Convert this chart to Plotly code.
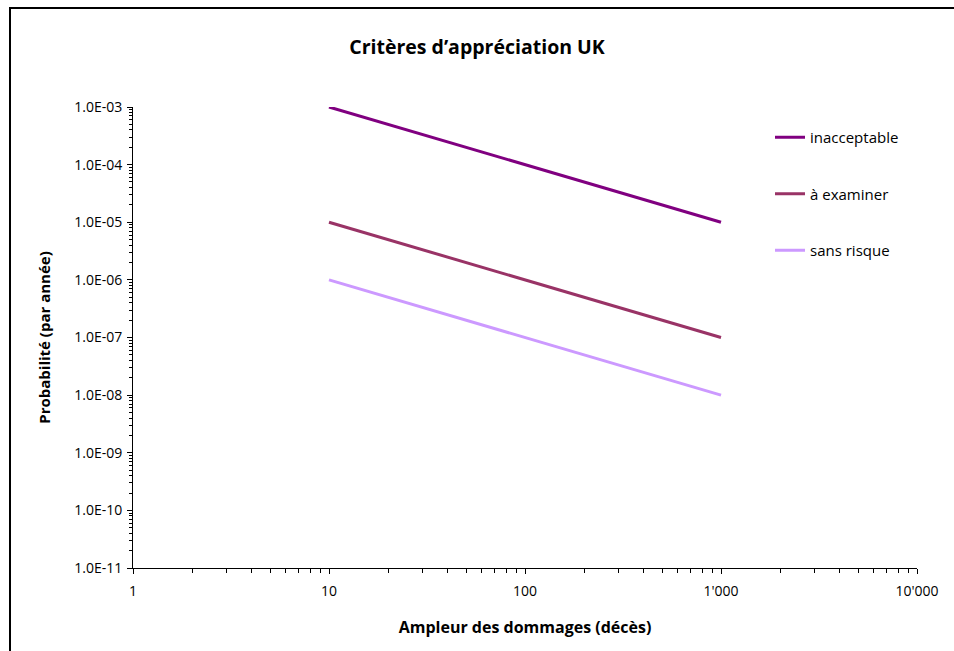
import plotly.graph_objects as go

x_vals = [10, 1000]
inacceptable = [1e-3, 1e-5]
a_examiner = [1e-5, 1e-7]
sans_risque = [1e-6, 1e-8]

series_names = ["inacceptable", "à examiner", "sans risque"]
series_colors = ["#800080", "#993366", "#CC99FF"]

y_tickvals = [1e-11, 1e-10, 1e-9, 1e-8, 1e-7, 1e-6, 1e-5, 1e-4, 1e-3]
y_ticktext = ["1.0E-11", "1.0E-10", "1.0E-09", "1.0E-08", "1.0E-07",
              "1.0E-06", "1.0E-05", "1.0E-04", "1.0E-03"]
x_tickvals = [1, 10, 100, 1000, 10000]
x_ticktext = ["1", "10", "100", "1'000", "10'000"]

x_minor = [m * 10 ** k for k in range(0, 4) for m in range(2, 10)]
y_minor = [m * 10.0 ** k for k in range(-11, -3) for m in range(2, 10)]

FONT = "Open Sans"

fig = go.Figure()
for i, (name, ys, col) in enumerate(zip(series_names, [inacceptable, a_examiner, sans_risque], series_colors)):
    fig.add_trace(go.Scatter(x=x_vals, y=ys, mode="lines", name=name,
                             line=dict(color=col, width=3),
                             legendgroup=f"g{i}"))

L, R, T, B = 133, 37, 107, 83
W, H = 954, 651
pw, ph = W - L - R, H - T - B

def px_x(px):
    return (px - L) / pw

def px_y(py):
    return (H - B - py) / ph

fig.update_layout(
    width=W, height=H,
    margin=dict(l=L, r=R, t=T, b=B),
    paper_bgcolor="white", plot_bgcolor="white",
    font=dict(family=FONT, size=14, color="black"),
    title=dict(text="<b>Critères d’appréciation UK</b>", x=0.5, xref="container", xanchor="center",
               y=1 - 47 / H, yanchor="middle", font=dict(size=19.5, family=FONT)),
    showlegend=True,
    legend=dict(x=px_x(770), y=px_y(121), xanchor="left", yanchor="top",
                tracegroupgap=34, itemwidth=30, font=dict(size=15, family=FONT),
                bgcolor="rgba(0,0,0,0)"),
    xaxis=dict(type="log", range=[0, 4], tickvals=x_tickvals, ticktext=x_ticktext,
               showgrid=False, zeroline=False, showline=True, linecolor="black", linewidth=1,
               ticks="outside", ticklen=5, tickcolor="black", ticklabelstandoff=5,
               minor=dict(tickvals=x_minor, ticks="outside", ticklen=4, tickcolor="black", showgrid=False),
               title=dict(text="<b>Ampleur des dommages (décès)</b>", font=dict(size=16), standoff=23)),
    yaxis=dict(type="log", range=[-11, -3], tickvals=y_tickvals, ticktext=y_ticktext,
               showgrid=False, zeroline=False, showline=True, linecolor="black", linewidth=1,
               ticks="outside", ticklen=5, tickcolor="black", ticklabelstandoff=2,
               minor=dict(tickvals=y_minor, ticks="outside", ticklen=3, tickcolor="black", showgrid=False),
               title=dict(text="<b>Probabilité (par année)</b>", font=dict(size=15), standoff=19)),
)

fig.add_shape(type="rect", xref="paper", yref="paper",
              x0=px_x(10), x1=px_x(960), y0=px_y(660), y1=px_y(8),
              line=dict(color="black", width=2), fillcolor="rgba(0,0,0,0)", layer="below")

fig.write_html("out.html", config={"displayModeBar": False},
               post_script="document.body.style.margin='0';")
